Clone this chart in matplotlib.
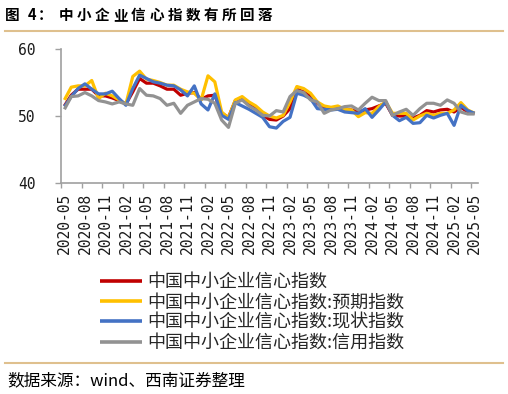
import matplotlib
matplotlib.use("Agg")
import matplotlib.pyplot as plt
import numpy as np
import pandas as pd

# ---------------- data ----------------
months = list(pd.period_range("2020-05", "2025-05", freq="M").strftime("%Y-%m"))

smei = [51.5, 53.1, 54.0, 54.0, 54.0, 53.0, 53.0, 52.7, 52.3, 51.8,
        53.6, 55.6, 54.9, 54.9, 54.5, 54.0, 54.0, 53.1, 53.4, 53.5,
        52.5, 53.0, 53.1, 50.4, 49.8, 52.3, 52.6, 51.8, 51.3, 50.1,
        49.5, 49.4, 50.0, 51.1, 54.0, 53.6, 53.0, 51.9, 51.1, 51.1,
        51.3, 51.0, 50.9, 50.6, 50.9, 51.1, 51.5, 51.9, 50.1, 50.0,
        50.0, 49.7, 50.1, 50.8, 50.6, 50.9, 51.0, 50.6, 51.3, 50.6,
        50.4]
expect = [52.4, 54.3, 54.5, 54.5, 55.3, 52.6, 53.4, 53.0, 52.4, 51.8,
          55.9, 56.7, 55.5, 55.3, 55.0, 54.6, 54.6, 54.0, 53.6, 53.4,
          52.4, 56.0, 55.1, 50.6, 49.7, 52.4, 52.9, 52.1, 51.5, 50.6,
          50.0, 49.7, 50.1, 52.1, 54.4, 54.1, 53.4, 52.1, 51.5, 51.3,
          51.5, 51.0, 50.9, 49.9, 50.5, 50.4, 51.4, 52.1, 50.4, 50.4,
          50.4, 49.4, 50.0, 50.4, 50.1, 50.4, 50.4, 50.9, 52.0, 50.9,
          50.4]
current = [51.4, 52.9, 54.1, 54.8, 54.0, 53.3, 53.3, 53.7, 52.6, 51.6,
           54.1, 56.1, 55.6, 55.1, 54.9, 54.6, 54.5, 53.9, 53.0, 54.5,
           51.8, 50.9, 53.3, 50.1, 49.5, 52.0, 51.5, 51.0, 50.4, 49.8,
           48.4, 48.2, 49.2, 49.8, 53.4, 53.1, 52.6, 51.1, 51.0, 50.9,
           51.0, 50.6, 50.5, 50.4, 51.1, 49.8, 50.9, 52.1, 50.1, 49.3,
           49.8, 48.9, 49.0, 50.1, 49.7, 50.1, 50.4, 48.6, 51.6, 50.8,
           50.4]
credit = [51.0, 52.9, 53.0, 53.5, 53.0, 52.3, 52.1, 51.8, 52.1, 51.8,
          51.6, 54.1, 53.1, 53.0, 52.6, 51.6, 51.9, 50.4, 51.6, 52.1,
          52.6, 52.5, 51.9, 49.4, 48.3, 51.9, 52.4, 51.5, 50.9, 50.1,
          50.0, 50.8, 50.6, 52.9, 53.8, 53.5, 52.4, 52.1, 50.4, 50.9,
          51.1, 51.4, 51.5, 50.9, 51.9, 52.8, 52.3, 52.3, 50.1, 50.6,
          51.0, 50.1, 51.1, 51.9, 51.9, 51.6, 52.4, 51.9, 50.6, 50.3,
          50.3]

series_names = ["中国中小企业信心指数",
                "中国中小企业信心指数:预期指数",
                "中国中小企业信心指数:现状指数",
                "中国中小企业信心指数:信用指数"]
series_colors = ["#C00000", "#FFC000", "#4472C4", "#929292"]
yticks = [40, 50, 60]

title_chars = ["图", "4", "：", "中", "小", "企", "业", "信", "心", "指", "数",
               "有", "所", "回", "落"]
source_text = "数据来源：wind、西南证券整理"

# ---------------- figure ----------------
W, H = 508, 394
fig = plt.figure(figsize=(W / 100, H / 100), dpi=100)
fam = ["Noto Sans CJK SC", "DejaVu Sans"]

def fx(px):
    return px / W

def fy(py):
    return 1 - py / H

ax = fig.add_axes([fx(61), fy(183), fx(478) - fx(61), fy(49) - fy(183)])

x = np.arange(len(months)) + 0.5
for vals, name, col in zip([smei, expect, current, credit], series_names, series_colors):
    ax.plot(x, vals, color=col, lw=2.3, label=name, solid_joinstyle="round",
            solid_capstyle="butt")

ax.set_xlim(0, len(months))
ax.set_ylim(40, 60)
ax.set_yticks(yticks)
ax.set_yticklabels([str(v) for v in yticks], family="DejaVu Sans Mono", fontsize=10.5)

ax.set_xticks(np.arange(0, len(months), 3))
ax.set_xticklabels([])
ax.set_xticks(np.arange(0, len(months), 3) + 0.5, minor=True)
ax.set_xticklabels(months[::3], minor=True, rotation=90,
                   family="DejaVu Sans Mono", fontsize=10.5)

for s in ["top", "right"]:
    ax.spines[s].set_visible(False)
for s in ["left", "bottom"]:
    ax.spines[s].set_color("#A0A0A0")
    ax.spines[s].set_linewidth(1.2)

ax.tick_params(axis="y", which="major", direction="out", length=4.3, width=1.0,
               color="#A0A0A0", pad=14, labelcolor="#1a1a1a")
ax.tick_params(axis="x", which="major", direction="out", length=3.3, width=1.0,
               color="#A0A0A0")
ax.tick_params(axis="x", which="minor", length=0, pad=7, labelcolor="#1a1a1a")

# legend
leg = fig.legend(loc="upper left", bbox_to_anchor=(fx(100), fy(273)),
                 frameon=False, prop={"family": fam, "size": 13},
                 handlelength=2.3, handletextpad=0.3, labelspacing=0.13,
                 borderaxespad=0, borderpad=0)
for t in leg.get_texts():
    t.set_color("#262626")
for l in leg.get_lines():
    l.set_linewidth(2.6)

# title, letter-spaced
title_x = [12.5, 32.5, 45.5] + [66 + 18.1 * k for k in range(12)]
for ch, px in zip(title_chars, title_x):
    fig.text(fx(px), fy(15), ch, ha="center", va="center", fontsize=10.5,
             fontweight="bold", family=fam, color="black")

# separator lines
rule_col = "#DFC08E"
fig.add_artist(plt.Line2D([fx(5), fx(503)], [fy(31), fy(31)], color=rule_col, lw=1.5))
fig.add_artist(plt.Line2D([fx(5), fx(503)], [fy(363), fy(363)], color=rule_col, lw=1.5))

fig.text(fx(7), fy(381), source_text, ha="left", va="center", fontsize=12,
         family=fam, style="italic", color="black")

fig.savefig("out.png", dpi=100)
